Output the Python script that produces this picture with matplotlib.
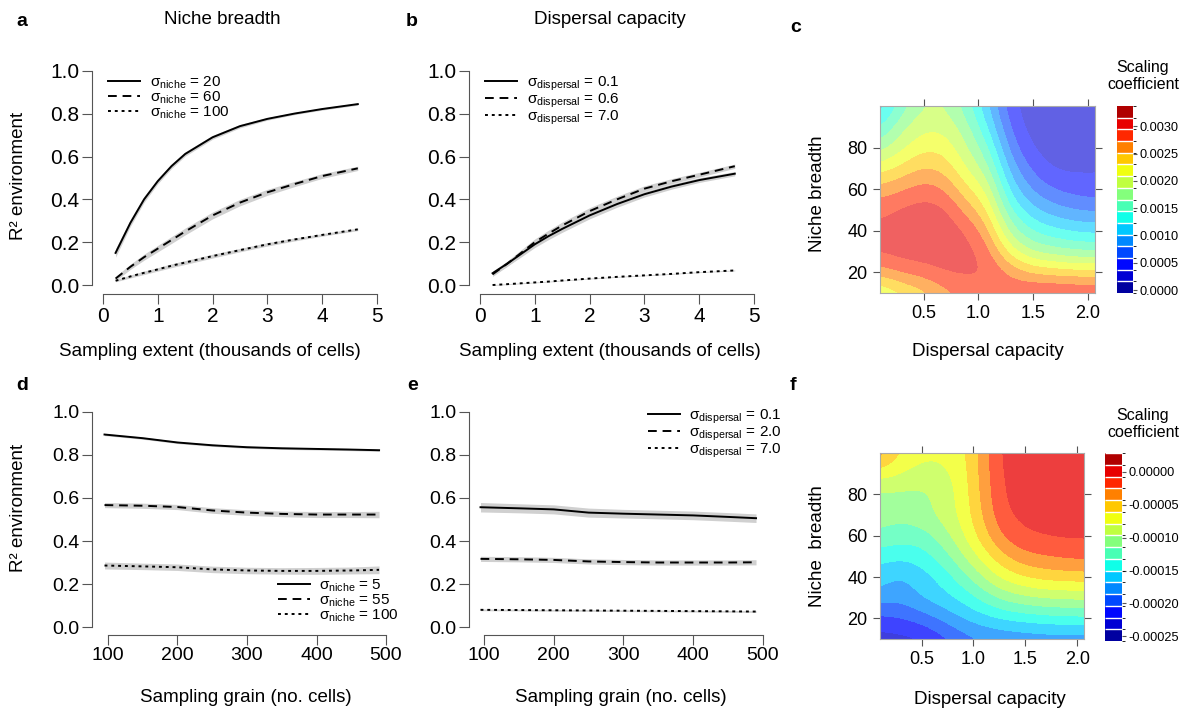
import numpy as np
import matplotlib
matplotlib.use("Agg")
import matplotlib.pyplot as plt
from matplotlib.colors import ListedColormap, BoundaryNorm
from matplotlib.cm import ScalarMappable

plt.rcParams["font.family"] = ["Liberation Sans", "DejaVu Sans"]
plt.rcParams["mathtext.fontset"] = "custom"
plt.rcParams["mathtext.rm"] = "Liberation Sans"

# ---- line panels (a, b: sampling extent; d, e: sampling grain) ----
ext_x = [0.23, 0.5, 0.75, 1.0, 1.25, 1.5, 2.0, 2.5, 3.0, 3.5, 4.0, 4.65]
a_niche20 = [0.15, 0.29, 0.40, 0.485, 0.555, 0.612, 0.69, 0.742, 0.776, 0.801, 0.822, 0.845]
a_niche60 = [0.03, 0.085, 0.13, 0.17, 0.21, 0.25, 0.325, 0.385, 0.433, 0.472, 0.509, 0.545]
a_niche100 = [0.02, 0.04, 0.057, 0.073, 0.09, 0.105, 0.135, 0.163, 0.19, 0.213, 0.234, 0.26]
a_ci20 = [0.02, 0.016, 0.014, 0.012, 0.011, 0.01, 0.009, 0.008, 0.006, 0.005, 0.005, 0.005]
a_ci60 = [0.01, 0.012, 0.014, 0.015, 0.016, 0.016, 0.016, 0.015, 0.014, 0.012, 0.011, 0.01]
a_ci100 = [0.005, 0.007, 0.008, 0.008, 0.009, 0.009, 0.009, 0.008, 0.008, 0.007, 0.006, 0.006]

b_disp01 = [0.055, 0.10, 0.145, 0.19, 0.228, 0.262, 0.325, 0.378, 0.424, 0.46, 0.49, 0.52]
b_disp06 = [0.05, 0.10, 0.15, 0.20, 0.24, 0.278, 0.345, 0.40, 0.45, 0.485, 0.515, 0.555]
b_disp70 = [0.0, 0.004, 0.008, 0.012, 0.016, 0.021, 0.03, 0.038, 0.045, 0.052, 0.06, 0.068]
b_ci01 = [0.01, 0.012, 0.014, 0.015, 0.016, 0.016, 0.016, 0.015, 0.013, 0.012, 0.011, 0.01]
b_ci06 = [0.01, 0.012, 0.014, 0.015, 0.016, 0.016, 0.016, 0.015, 0.013, 0.012, 0.011, 0.01]
b_ci70 = [0.002] * 12

grain_x = [95, 150, 200, 250, 300, 350, 400, 450, 490]
d_niche5 = [0.895, 0.878, 0.858, 0.845, 0.836, 0.831, 0.828, 0.825, 0.822]
d_niche55 = [0.567, 0.564, 0.558, 0.542, 0.532, 0.526, 0.523, 0.523, 0.523]
d_niche100 = [0.286, 0.282, 0.278, 0.268, 0.263, 0.261, 0.261, 0.263, 0.266]
d_ci5 = [0.005] * 9
d_ci55 = [0.012, 0.012, 0.012, 0.013, 0.013, 0.013, 0.014, 0.014, 0.015]
d_ci100 = [0.016, 0.015, 0.015, 0.015, 0.015, 0.015, 0.016, 0.016, 0.018]

e_disp01 = [0.557, 0.552, 0.547, 0.532, 0.527, 0.523, 0.519, 0.512, 0.506]
e_disp20 = [0.317, 0.315, 0.312, 0.305, 0.302, 0.300, 0.300, 0.300, 0.301]
e_disp70 = [0.080, 0.079, 0.078, 0.077, 0.076, 0.075, 0.074, 0.073, 0.072]
e_ci01 = [0.022, 0.021, 0.021, 0.021, 0.02, 0.02, 0.02, 0.02, 0.02]
e_ci20 = [0.012] * 9
e_ci70 = [0.004] * 9

# ---- heatmaps (c, f): rows = niche breadth, cols = dispersal capacity ----
disp_grid = [0.10, 0.296, 0.492, 0.688, 0.884, 1.08, 1.276, 1.472, 1.668, 1.864, 2.06]
niche_grid = [10, 20, 30, 40, 50, 60, 70, 80, 90, 100]

# scaling coefficient, units of 1e-4
c_vals = [
    [20.4, 22.6, 24.1, 26.4, 27.9, 28.6, 28.9, 29.9, 30.1, 29.9, 29.6],
    [26.2, 27.7, 28.4, 29.6, 29.9, 29.6, 27.3, 25.1, 24.5, 24.1, 24.1],
    [29.9, 30.5, 30.7, 30.7, 30.3, 28.6, 22.4, 18.7, 17.7, 16.8, 16.6],
    [30.1, 30.7, 31.1, 30.9, 29.6, 26.2, 18.3, 14.5, 13.0, 12.1, 11.7],
    [28.8, 29.9, 30.5, 30.1, 26.6, 23.4, 14.9, 11.0, 9.1, 8.0, 7.6],
    [26.0, 27.1, 28.4, 27.5, 23.7, 20.7, 12.1, 8.0, 5.9, 5.0, 4.6],
    [21.9, 23.7, 25.4, 24.7, 20.9, 17.9, 9.7, 5.7, 3.5, 3.3, 3.5],
    [17.7, 20.4, 22.6, 22.4, 19.2, 15.3, 7.6, 3.8, 2.7, 2.7, 2.9],
    [14.0, 18.3, 20.4, 20.4, 17.7, 12.7, 5.9, 2.9, 2.3, 2.3, 2.5],
    [10.6, 15.5, 18.7, 18.9, 15.7, 10.8, 4.6, 2.5, 2.0, 2.0, 2.3],
]
c_levels = np.linspace(-0.524, 33.70, 17) * 1e-4
c_ticks = [0.0, 0.0005, 0.0010, 0.0015, 0.0020, 0.0025, 0.0030]

# scaling coefficient, units of 1e-5
f_vals = [
    [-23.0, -22.9, -22.5, -21.2, -19.6, -18.7, -18.4, -18.2, -18.0, -18.0, -18.0],
    [-20.9, -20.4, -19.6, -18.2, -16.8, -15.7, -14.8, -14.3, -13.9, -13.7, -13.6],
    [-17.5, -18.0, -16.6, -15.7, -14.5, -12.7, -10.9, -10.0, -9.5, -9.3, -9.1],
    [-15.9, -17.1, -15.9, -14.5, -12.3, -9.8, -7.3, -6.1, -5.3, -5.2, -5.0],
    [-14.3, -14.6, -14.1, -12.5, -10.0, -7.1, -4.6, -3.0, -2.5, -2.1, -1.9],
    [-11.6, -12.3, -12.3, -10.7, -8.2, -5.2, -2.3, -0.9, -0.5, -0.3, -0.3],
    [-10.7, -10.9, -10.3, -9.1, -7.5, -4.3, -1.1, -0.2, -0.2, -0.2, -0.3],
    [-10.2, -10.0, -10.2, -9.1, -7.3, -3.9, -0.7, 0.2, 0.0, 0.0, -0.2],
    [-7.0, -7.8, -8.6, -8.4, -7.1, -3.7, -0.5, 0.4, 0.2, 0.0, 0.0],
    [-2.8, -6.2, -7.3, -7.5, -6.8, -3.6, -0.3, 0.6, 0.4, 0.2, 0.0],
]
f_levels = np.linspace(-25.71, 2.88, 17) * 1e-5
f_ticks = [-0.00025, -0.00020, -0.00015, -0.00010, -0.00005, 0.0]

band_colors = ["#0000A0", "#0000D4", "#0008FF", "#0048FF", "#0088FF", "#00C8FF",
               "#10FFE8", "#48FFB4", "#84FF7C", "#C0FF40", "#F0FF10", "#FFC800",
               "#FF8000", "#FF2800", "#E80000", "#B00000"]
cmap = ListedColormap(band_colors)

W, H = 1181, 709
fig = plt.figure(figsize=(W / 100, H / 100), dpi=100)


def px_axes(l, t, r, b):
    return fig.add_axes([l / W, 1 - b / H, (r - l) / W, (b - t) / H])


def ftext(x, y, s, **kw):
    return fig.text(x / W, 1 - y / H, s, **kw)


AX_COL = "#555555"


def r_axes(ax, xlim, ylim, xb, xt, xtl, size):
    ax.set_xlim(xlim)
    ax.set_ylim(ylim)
    ax.spines["top"].set_visible(False)
    ax.spines["right"].set_visible(False)
    ax.spines["left"].set_bounds(0, 1)
    ax.spines["bottom"].set_bounds(*xb)
    for s in ["left", "bottom"]:
        ax.spines[s].set_color(AX_COL)
    ax.set_xticks(xt)
    ax.set_xticklabels(xtl)
    ax.set_yticks([0, 0.2, 0.4, 0.6, 0.8, 1.0])
    ax.set_yticklabels(["0.0", "0.2", "0.4", "0.6", "0.8", "1.0"])
    ax.tick_params(axis="both", length=7, color=AX_COL, labelsize=size, pad=2)


def draw(ax, x, y, ci, ls):
    y = np.array(y)
    ci = np.array(ci)
    ax.fill_between(x, y - ci, y + ci, color="#d0d0d0", lw=0)
    ax.plot(x, y, color="black", lw=1.4, ls=ls)


LS = ["-", (0, (4.5, 3)), (0, (1.5, 2))]
leg_kw = dict(frameon=False, fontsize=11, handlelength=2.1, handletextpad=0.6,
              labelspacing=-0.1, borderaxespad=0)
h = [plt.Line2D([], [], color="black", lw=1.4, ls=l) for l in LS]


def nlab(v):
    return "σ$_{\\rm niche}$ = " + v


def dlab(v):
    return "σ$_{\\rm dispersal}$ = " + v


# panel a
ax = px_axes(92, 66, 383, 294)
r_axes(ax, (-0.2, 5.11), (-0.042, 1.023), (0, 5), range(6), [str(i) for i in range(6)], 15)
for yv, ci, ls in [(a_niche20, a_ci20, LS[0]), (a_niche60, a_ci60, LS[1]), (a_niche100, a_ci100, LS[2])]:
    draw(ax, ext_x, yv, ci, ls)
ax.legend(h, [nlab("20"), nlab("60"), nlab("100")],
          loc="upper left", bbox_to_anchor=(0.035, 0.99), **leg_kw)

# panel b
ax = px_axes(469, 66, 760, 294)
r_axes(ax, (-0.2, 5.11), (-0.042, 1.023), (0, 5), range(6), [str(i) for i in range(6)], 15)
for yv, ci, ls in [(b_disp01, b_ci01, LS[0]), (b_disp06, b_ci06, LS[1]), (b_disp70, b_ci70, LS[2])]:
    draw(ax, ext_x, yv, ci, ls)
ax.legend(h, [dlab("0.1"), dlab("0.6"), dlab("7.0")],
          loc="upper left", bbox_to_anchor=(0.035, 0.99), **leg_kw)

# panel d
ax = px_axes(92, 407, 392, 635)
r_axes(ax, (77, 508.6), (-0.037, 1.023), (100, 500), [100, 200, 300, 400, 500],
       ["100", "200", "300", "400", "500"], 14)
for yv, ci, ls in [(d_niche5, d_ci5, LS[0]), (d_niche55, d_ci55, LS[1]), (d_niche100, d_ci100, LS[2])]:
    draw(ax, grain_x, yv, ci, ls)
ax.legend(h, [nlab("5"), nlab("55"), nlab("100")],
          loc="lower left", bbox_to_anchor=(0.6, 0.02), **leg_kw)

# panel e
ax = px_axes(469, 407, 769, 635)
r_axes(ax, (78.5, 508.6), (-0.037, 1.023), (100, 500), [100, 200, 300, 400, 500],
       ["100", "200", "300", "400", "500"], 14)
for yv, ci, ls in [(e_disp01, e_ci01, LS[0]), (e_disp20, e_ci20, LS[1]), (e_disp70, e_ci70, LS[2])]:
    draw(ax, grain_x, yv, ci, ls)
ax.legend(h, [dlab("0.1"), dlab("2.0"), dlab("7.0")],
          loc="upper left", bbox_to_anchor=(0.575, 1.025), **leg_kw)


# heatmaps
def heat(box, cbox, vals, scale, levels, alpha, ticks, fmt):
    ax = px_axes(*box)
    norm = BoundaryNorm(levels, cmap.N)
    z = np.array(vals) * scale
    dx = (disp_grid[1] - disp_grid[0]) / 2
    dy = (niche_grid[1] - niche_grid[0]) / 2
    ax.imshow(z, origin="lower", cmap=cmap, norm=norm, alpha=alpha, aspect="auto",
              interpolation="bicubic", interpolation_stage="data",
              extent=(disp_grid[0] - dx, disp_grid[-1] + dx, niche_grid[0] - dy, niche_grid[-1] + dy))
    ax.set_xlim(disp_grid[0], disp_grid[-1] + 0.005)
    ax.set_ylim(niche_grid[0], niche_grid[-1])
    ax.set_xticks([0.5, 1.0, 1.5, 2.0])
    ax.set_xticklabels(["0.5", "1.0", "1.5", "2.0"])
    ax.set_yticks([20, 40, 60, 80])
    ax.tick_params(top=True, right=True, direction="out", length=5, color=AX_COL,
                   labelsize=13, pad=4)
    for s in ax.spines.values():
        s.set_color("#aaaaaa")
    cax = px_axes(*cbox)
    sm = ScalarMappable(norm=norm, cmap=cmap)
    cb = fig.colorbar(sm, cax=cax, drawedges=True)
    cb.dividers.set_color("white")
    cb.dividers.set_linewidth(1.0)
    cb.outline.set_visible(False)
    cb.set_ticks(ticks)
    cb.set_ticklabels([fmt.format(t) for t in ticks])
    cax.tick_params(length=3, color=AX_COL, labelsize=9.2, pad=1.5)
    return ax


heat((880, 106, 1095, 293), (1117, 106, 1133, 293), c_vals, 1e-4, c_levels, 0.62, c_ticks, "{:.4f}")
heat((880, 453, 1084, 639), (1105, 453, 1122, 641), f_vals, 1e-5, f_levels, 0.76, f_ticks, "{:.5f}")

# text
lab = dict(fontsize=13.5, ha="center", va="center")
bold = dict(fontsize=14, fontweight="bold", va="center")
ftext(16, 21, "a", **bold)
ftext(406, 21, "b", **bold)
ftext(790, 27, "c", **bold)
ftext(16, 385, "d", **bold)
ftext(407, 385, "e", **bold)
ftext(790, 385, "f", **bold)
ftext(222, 20, "Niche breadth", **lab)
ftext(610, 20, "Dispersal capacity", **lab)
ftext(210, 352, "Sampling extent (thousands of cells)", **lab)
ftext(610, 352, "Sampling extent (thousands of cells)", **lab)
ftext(246, 697, "Sampling grain (no. cells)", **lab)
ftext(621, 697, "Sampling grain (no. cells)", **lab)
ftext(19, 176, "R² environment", rotation=90, **lab)
ftext(19, 508, "R² environment", rotation=90, **lab)
ftext(817, 194, "Niche breadth", rotation=90, **lab)
ftext(817, 546, "Niche  breadth", rotation=90, **lab)
ftext(988, 352, "Dispersal capacity", **lab)
ftext(990, 700, "Dispersal capacity", **lab)
ftext(1143, 76, "Scaling\ncoefficient", fontsize=11.5, ha="center", va="center", linespacing=1.1)
ftext(1143, 424, "Scaling\ncoefficient", fontsize=11.5, ha="center", va="center", linespacing=1.1)

fig.savefig("out.png", dpi=100)
